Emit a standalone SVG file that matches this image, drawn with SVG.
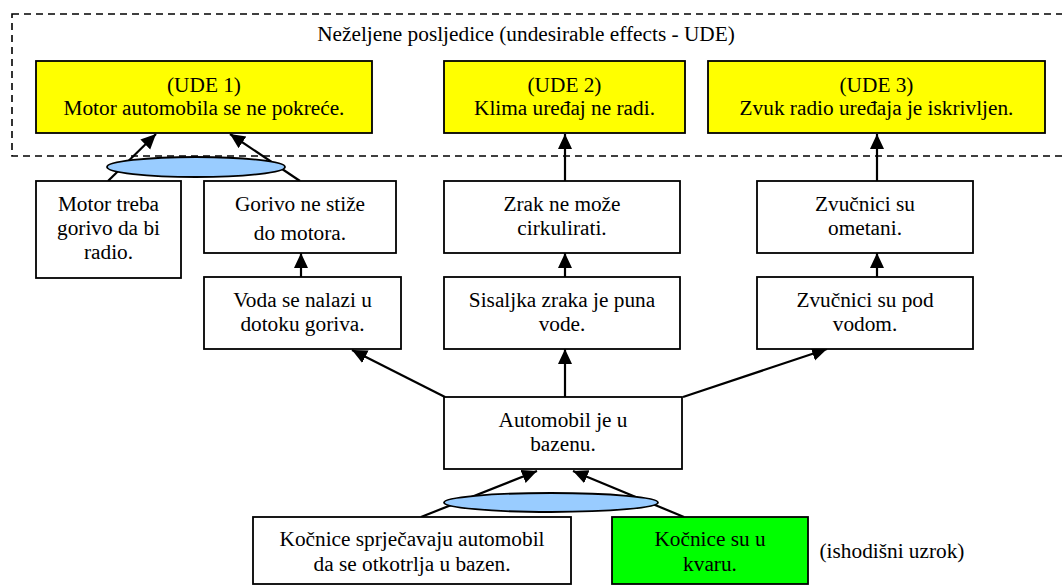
<svg xmlns="http://www.w3.org/2000/svg" width="1062" height="586" viewBox="0 0 1062 586">
  <style>
    .box { fill: #fff; stroke: #000; stroke-width: 1.8; }
    .ude { fill: #ffff00; stroke: #000; stroke-width: 1.8; }
    .root { fill: #00ff00; stroke: #000; stroke-width: 1.8; }
    .and { fill: #99ccff; stroke: #000; stroke-width: 1.8; }
    .edge { stroke: #000; stroke-width: 2.2; fill: none; marker-end: url(#arrow); }
    .frame { fill: none; stroke: #000; stroke-width: 1.6; stroke-dasharray: 7 5; }
  </style>
  <defs>
    <marker id="arrow" markerUnits="userSpaceOnUse" markerWidth="16" markerHeight="16" refX="15" refY="7" orient="auto">
      <path d="M0,0 L15,7 L0,14 z" fill="#000"/>
    </marker>
  </defs>

  <rect width="1062" height="586" fill="#fff"/>

  <g font-family="Liberation Serif, Times New Roman, DejaVu Serif, serif" font-size="21.3" text-anchor="middle" fill="#000">

  <!-- UDE frame -->
  <g id="ude-frame">
    <rect class="frame" x="12" y="14" width="1060" height="142"/>
    <text x="526" y="41">Neželjene posljedice (undesirable effects - UDE)</text>
  </g>

  <!-- connectors -->
  <g id="connectors">
    <line class="edge" x1="108" y1="181" x2="156" y2="134"/>
    <line class="edge" x1="300" y1="181" x2="230" y2="134"/>
    <line class="edge" x1="565" y1="181" x2="565" y2="134"/>
    <line class="edge" x1="877" y1="181" x2="877" y2="134"/>
    <line class="edge" x1="301" y1="277" x2="301" y2="253"/>
    <line class="edge" x1="565" y1="277" x2="565" y2="253"/>
    <line class="edge" x1="877" y1="277" x2="877" y2="253"/>
    <line class="edge" x1="445" y1="397" x2="352" y2="350"/>
    <line class="edge" x1="565" y1="397" x2="565" y2="349"/>
    <line class="edge" x1="683" y1="397" x2="827" y2="349"/>
    <line class="edge" x1="421" y1="517" x2="537" y2="471"/>
    <line class="edge" x1="684" y1="517" x2="573" y2="471"/>
  </g>

  <!-- AND junctions -->
  <g id="and-top">
    <ellipse class="and" cx="196" cy="167" rx="89" ry="10"/>
  </g>
  <g id="and-bottom">
    <ellipse class="and" cx="551" cy="502.5" rx="107" ry="9.5"/>
  </g>

  <!-- undesirable effects -->
  <g id="ude1">
    <rect class="ude" x="36" y="61" width="336" height="72"/>
    <text x="204" y="92">(UDE 1)</text>
    <text x="204" y="115">Motor automobila se ne pokreće.</text>
  </g>
  <g id="ude2">
    <rect class="ude" x="444" y="61" width="241" height="72"/>
    <text x="564.5" y="92">(UDE 2)</text>
    <text x="564.5" y="115">Klima uređaj ne radi.</text>
  </g>
  <g id="ude3">
    <rect class="ude" x="708" y="61" width="337" height="72"/>
    <text x="876.5" y="92">(UDE 3)</text>
    <text x="876.5" y="115">Zvuk radio uređaja je iskrivljen.</text>
  </g>

  <!-- intermediate causes -->
  <g id="motor-needs-fuel">
    <rect class="box" x="36" y="181" width="145" height="97"/>
    <text x="108.5" y="211">Motor treba</text>
    <text x="108.5" y="235">gorivo da bi</text>
    <text x="108.5" y="259">radio.</text>
  </g>
  <g id="fuel-not-reaching">
    <rect class="box" x="204" y="181" width="192" height="72"/>
    <text x="300" y="211">Gorivo ne stiže</text>
    <text x="300" y="240">do motora.</text>
  </g>
  <g id="water-in-fuel">
    <rect class="box" x="204" y="277" width="197" height="72"/>
    <text x="302.5" y="307">Voda se nalazi u</text>
    <text x="302.5" y="331">dotoku goriva.</text>
  </g>
  <g id="air-cannot-circulate">
    <rect class="box" x="444" y="181" width="236" height="72"/>
    <text x="562" y="211">Zrak ne može</text>
    <text x="562" y="235">cirkulirati.</text>
  </g>
  <g id="air-intake-water">
    <rect class="box" x="444" y="277" width="236" height="72"/>
    <text x="562" y="307">Sisaljka zraka je puna</text>
    <text x="562" y="331">vode.</text>
  </g>
  <g id="speakers-disturbed">
    <rect class="box" x="757" y="181" width="216" height="72"/>
    <text x="865" y="211">Zvučnici su</text>
    <text x="865" y="235">ometani.</text>
  </g>
  <g id="speakers-underwater">
    <rect class="box" x="757" y="277" width="216" height="72"/>
    <text x="865" y="307">Zvučnici su pod</text>
    <text x="865" y="331">vodom.</text>
  </g>
  <g id="car-in-pool">
    <rect class="box" x="444" y="397" width="238" height="72"/>
    <text x="563" y="427">Automobil je u</text>
    <text x="563" y="451">bazenu.</text>
  </g>

  <!-- bottom causes -->
  <g id="brakes-prevent">
    <rect class="box" x="253" y="517" width="318" height="67"/>
    <text x="412" y="546">Kočnice sprječavaju automobil</text>
    <text x="412" y="571">da se otkotrlja u bazen.</text>
  </g>
  <g id="brakes-broken">
    <rect class="root" x="612" y="517" width="196" height="67"/>
    <text x="710" y="546">Kočnice su u</text>
    <text x="710" y="571">kvaru.</text>
  </g>
  <g id="root-label">
    <text x="892" y="558">(ishodišni uzrok)</text>
  </g>

  </g>
</svg>
